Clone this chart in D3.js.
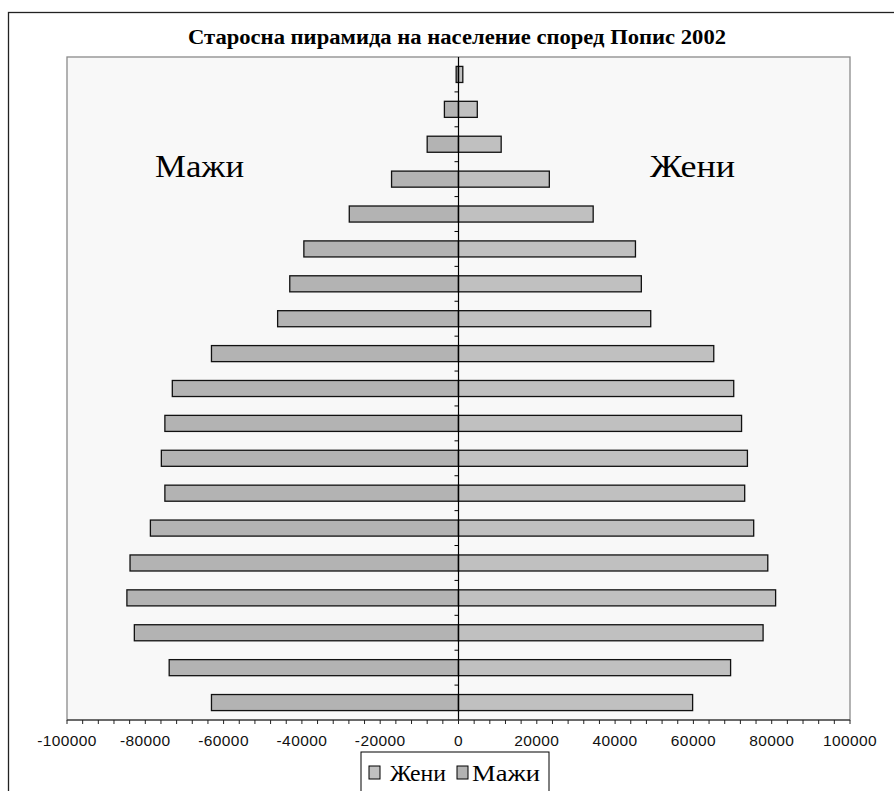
<!DOCTYPE html>
<html><head><meta charset="utf-8">
<script src="https://cdn.jsdelivr.net/npm/d3@7"></script>
<style>body{margin:0;background:#fff}svg{display:block}</style>
</head><body>
<svg id="c" width="894" height="791"></svg>
<script>
// Age groups, bottom (youngest) to top (oldest)
const ageGroups = ["0-4","5-9","10-14","15-19","20-24","25-29","30-34","35-39","40-44","45-49","50-54","55-59","60-64","65-69","70-74","75-79","80-84","85-89","90+"];
const men   = [63100,73900,82800,84700,83900,78700,75000,75900,75000,73100,63100,46200,43100,39500,27900,17100,8000,3600,600];
const women = [59800,69500,77800,81000,79000,75400,73100,73800,72300,70300,65200,49100,46700,45200,34400,23200,10900,4800,1100];
const xTicks = [-100000,-80000,-60000,-40000,-20000,0,20000,40000,60000,80000,100000];
const seriesNames = ["Жени","Мажи"];
const title = "Старосна пирамида на население според Попис 2002";

const svg = d3.select("#c");
const L = 67, R = 850, T = 57, B = 720;
const x = d3.scaleLinear().domain([-100000,100000]).range([L,R]);
const y = d3.scaleBand().domain(ageGroups.slice().reverse()).range([T,B]).paddingInner(0.54).paddingOuter(0.27);
const yb = d3.scaleBand().domain(ageGroups.slice().reverse()).range([T,B]);
const serif = "Liberation Serif, Times New Roman, serif";

// outer chart border
svg.append("rect").attr("x",8.5).attr("y",12.5).attr("width",900).attr("height",800)
  .attr("fill","#fff").attr("stroke","#222").attr("stroke-width",1.3);

// title
svg.append("text").attr("x",188).attr("y",44)
  .attr("font-family",serif).attr("font-weight","bold")
  .attr("font-size",20).attr("fill","#000")
  .attr("textLength",538).attr("lengthAdjust","spacingAndGlyphs").text(title);

// plot area
svg.append("rect").attr("x",L).attr("y",T).attr("width",R-L).attr("height",B-T)
  .attr("fill","#f8f8f8").attr("stroke","#8a8a8a").attr("stroke-width",1.3);

// side labels
const lab = svg.append("g").attr("font-family",serif).attr("font-size",32).attr("fill","#000");
lab.append("text").attr("x",155).attr("y",177).attr("textLength",89).attr("lengthAdjust","spacingAndGlyphs").text(seriesNames[1]);
lab.append("text").attr("x",650).attr("y",177).attr("textLength",85).attr("lengthAdjust","spacingAndGlyphs").text(seriesNames[0]);

// bars
const rows = ageGroups.map((a,i)=>({a, m:men[i], w:women[i]}));
svg.append("g").selectAll("rect").data(rows).join("rect")
  .attr("x",d=>x(-d.m)).attr("y",d=>y(d.a)).attr("width",d=>x(0)-x(-d.m)).attr("height",y.bandwidth())
  .attr("fill","#b3b3b3").attr("stroke","#111").attr("stroke-width",1.3);
svg.append("g").selectAll("rect").data(rows).join("rect")
  .attr("x",x(0)).attr("y",d=>y(d.a)).attr("width",d=>x(d.w)-x(0)).attr("height",y.bandwidth())
  .attr("fill","#c0c0c0").attr("stroke","#111").attr("stroke-width",1.3);

// category axis at x=0
const catTicks = yb.domain().slice(1).map(d=>yb(d));
svg.append("g").selectAll("line").data(catTicks).join("line")
  .attr("x1",x(0)-4).attr("x2",x(0)).attr("y1",d=>d).attr("y2",d=>d).attr("stroke","#000");
svg.append("line").attr("x1",x(0)).attr("x2",x(0)).attr("y1",T).attr("y2",B).attr("stroke","#000").attr("stroke-width",1.2);

// x axis
svg.append("line").attr("x1",L).attr("x2",R).attr("y1",B).attr("y2",B).attr("stroke","#222");
const minor = d3.range(-100000,100001,4000);
svg.append("g").selectAll("line").data(minor).join("line")
  .attr("x1",d=>x(d)).attr("x2",d=>x(d)).attr("y1",B).attr("y2",B+4).attr("stroke","#222");
svg.append("g").selectAll("text").data(xTicks).join("text")
  .attr("x",d=>x(d)).attr("y",746).attr("text-anchor","middle")
  .attr("font-family","Liberation Sans, Arial, sans-serif").attr("font-size",15.5).attr("fill","#111")
  .attr("letter-spacing",0.4)
  .text(d=>String(d));

// legend
const lg = svg.append("g");
lg.append("rect").attr("x",361).attr("y",752).attr("width",188).attr("height",60)
  .attr("fill","#fff").attr("stroke","#000");
const items = [{n:seriesNames[0],c:"#c0c0c0",sx:369,tx:390,w:56},{n:seriesNames[1],c:"#b3b3b3",sx:457,tx:472,w:68}];
items.forEach(it=>{
  lg.append("rect").attr("x",it.sx).attr("y",766).attr("width",11).attr("height",13)
    .attr("fill",it.c).attr("stroke","#000");
  lg.append("text").attr("x",it.tx).attr("y",781).attr("font-family",serif)
    .attr("font-size",23).attr("fill","#000")
    .attr("textLength",it.w).attr("lengthAdjust","spacingAndGlyphs").text(it.n);
});
</script>
</body></html>
